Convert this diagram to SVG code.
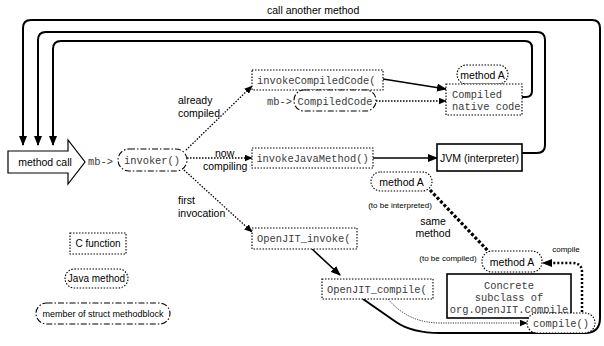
<svg xmlns="http://www.w3.org/2000/svg" width="604" height="346" viewBox="0 0 604 346">
<defs>
<marker id="ah" markerUnits="userSpaceOnUse" markerWidth="10" markerHeight="8" refX="9" refY="4" orient="auto"><path d="M0,0 L10,4 L0,8 Z" fill="#000"/></marker>
<marker id="ahs" markerUnits="userSpaceOnUse" markerWidth="8" markerHeight="7" refX="7.5" refY="3.5" orient="auto"><path d="M0,0 L8,3.5 L0,7 Z" fill="#000"/></marker>
<style>
.sans{font-family:"Liberation Sans",Arial,sans-serif;font-size:10.5px;fill:#000}
.small{font-family:"Liberation Sans",Arial,sans-serif;font-size:8px;fill:#000}
.leg{font-family:"Liberation Sans",Arial,sans-serif;font-size:10px;fill:#000}
.leg9{font-family:"Liberation Sans",Arial,sans-serif;font-size:9px;fill:#000}
.mono{font-family:"Liberation Mono","Courier New",monospace;font-size:10.4px;fill:#3a3a3a}
.dot{fill:#fff;stroke:#000;stroke-width:1.1;stroke-dasharray:1.5 1.5}
.dd{fill:#fff;stroke:#000;stroke-width:1.1;stroke-dasharray:6 2 1.5 2}
.solid{fill:#fff;stroke:#000;stroke-width:1.6}
.loop{fill:none;stroke:#000;stroke-width:2}
.dl{fill:none;stroke:#000;stroke-width:1.3;stroke-dasharray:1.5 1.5}
.sl{fill:none;stroke:#000;stroke-width:1.6}
</style>
</defs>
<g id="connectors">
<path class="loop" d="M363,299 L396,322 Q412,333 440,333 L585,333 Q600,333 600,318 L600,28 Q600,20 592,20 L31,20 Q23,20 23,28 L23,145" marker-end="url(#ah)"/>
<path class="loop" d="M522,153 L537,153 Q545,153 545,145 L545,40 Q545,32 537,32 L46,32 Q38,32 38,40 L38,145" marker-end="url(#ah)"/>
<path class="loop" d="M522,97 L526,97 Q532,97 532,91 L532,48 Q532,41 525,41 L61,41 Q53,41 53,49 L53,145" marker-end="url(#ah)"/>
<path class="dl" d="M186,150 L252,86" marker-end="url(#ahs)"/>
<path class="dl" d="M187,158 L252,158" marker-end="url(#ahs)"/>
<path class="dl" d="M184,170 L252,232" marker-end="url(#ahs)"/>
<path class="sl" d="M383,79 L446,89" marker-end="url(#ah)"/>
<path class="dl" d="M376,101 L446,101" marker-end="url(#ahs)"/>
<path class="sl" d="M373,158 L437,158" marker-end="url(#ah)"/>
<path class="sl" d="M312,249 L340,275" marker-end="url(#ah)"/>
<path fill="none" stroke="#000" stroke-width="0.8" stroke-dasharray="1.2 1.2" d="M388,299 Q408,323 440,323 L527,323" marker-end="url(#ahs)"/>
<path fill="none" stroke="#000" stroke-width="2.5" stroke-dasharray="2 2" d="M582,312 L582,272 Q582,263 572,263 L543,263" marker-end="url(#ah)"/>
<path fill="none" stroke="#000" stroke-width="3.2" stroke-dasharray="3 2" d="M430,190 L489,252"/>
</g>
<text class="sans" x="267" y="14">call another method</text>
<g id="method-call">
<polygon points="8,151 68,151 68,140 85,162 68,184 68,173 8,173" fill="#fff" stroke="#000" stroke-width="1.2"/>
<text class="sans" x="45" y="166" text-anchor="middle">method call</text>
</g>
<text class="mono" x="88" y="165">mb-&gt;</text>
<g id="invoker">
<rect class="dd" x="118" y="149" width="69" height="22" rx="11"/>
<text class="mono" x="152" y="164" text-anchor="middle">invoker()</text>
</g>
<text class="sans" x="178" y="104">already</text>
<text class="sans" x="178" y="117">compiled</text>
<text class="sans" x="215" y="157">now</text>
<text class="sans" x="203" y="170">compiling</text>
<text class="sans" x="178" y="204">first</text>
<text class="sans" x="178" y="217">invocation</text>
<g id="invokeCompiledCode">
<rect class="dot" x="252" y="70" width="131" height="20"/>
<text class="mono" x="257" y="84">invokeCompiledCode(</text>
</g>
<text class="mono" x="267" y="105">mb-&gt;</text>
<g id="CompiledCode">
<rect class="dd" x="294" y="90" width="82" height="21" rx="10"/>
<text class="mono" x="335" y="105" text-anchor="middle">CompiledCode</text>
</g>
<g id="methodA-top">
<rect class="dot" x="457" y="65" width="51" height="19" rx="9.5"/>
<text class="sans" x="482.5" y="78.5" text-anchor="middle">method A</text>
</g>
<g id="compiled-native">
<rect class="dot" x="446" y="84" width="76" height="31"/>
<text class="mono" x="452" y="98">Compiled</text>
<text class="mono" x="452" y="110">native code</text>
</g>
<g id="invokeJavaMethod">
<rect class="dot" x="252" y="148" width="121" height="20"/>
<text class="mono" x="312.5" y="162" text-anchor="middle">invokeJavaMethod()</text>
</g>
<g id="JVM">
<rect class="solid" x="437" y="144" width="85" height="27"/>
<text class="sans" x="479.5" y="161.5" text-anchor="middle">JVM (interpreter)</text>
</g>
<g id="methodA-interp">
<rect class="dot" x="371" y="172" width="61" height="19" rx="9.5"/>
<text class="sans" x="401.5" y="185.5" text-anchor="middle">method A</text>
</g>
<text class="small" x="400" y="208" text-anchor="middle">(to be interpreted)</text>
<text class="sans" x="433" y="225" text-anchor="middle">same</text>
<text class="sans" x="433" y="237" text-anchor="middle">method</text>
<text class="small" x="448" y="261" text-anchor="middle">(to be compiled)</text>
<text class="small" x="566" y="252" text-anchor="middle">compile</text>
<g id="OpenJIT_invoke">
<rect class="dot" x="252" y="228" width="105" height="21"/>
<text class="mono" x="257" y="242">OpenJIT_invoke(</text>
</g>
<g id="OpenJIT_compile">
<rect class="dot" x="322" y="279" width="111" height="20"/>
<text class="mono" x="327" y="293">OpenJIT_compile(</text>
</g>
<g id="methodA-compiled">
<rect class="dot" x="482" y="251" width="60" height="21" rx="10"/>
<text class="sans" x="512" y="265.5" text-anchor="middle">method A</text>
</g>
<g id="concrete">
<rect class="solid" x="447" y="274" width="124" height="44" fill="#fff"/>
<text class="mono" x="509" y="289" text-anchor="middle">Concrete</text>
<text class="mono" x="509" y="301" text-anchor="middle">subclass of</text>
<text class="mono" x="509" y="313" text-anchor="middle">org.OpenJIT.Compile</text>
</g>
<g id="compile">
<rect class="dot" x="527" y="313" width="68" height="20" rx="10"/>
<text class="mono" x="561" y="327" text-anchor="middle">compile()</text>
</g>
<g id="legend-c">
<rect class="dot" x="70" y="233" width="56" height="21"/>
<text class="leg" x="98" y="247" text-anchor="middle">C function</text>
</g>
<g id="legend-java">
<rect class="dot" x="65" y="269" width="63" height="19" rx="9.5"/>
<text class="leg" x="96.5" y="282" text-anchor="middle">Java method</text>
</g>
<g id="legend-member">
<rect class="dd" x="36" y="303" width="134" height="21" rx="10.5"/>
<text class="leg9" x="103" y="317" text-anchor="middle">member of struct methodblock</text>
</g>
</svg>
